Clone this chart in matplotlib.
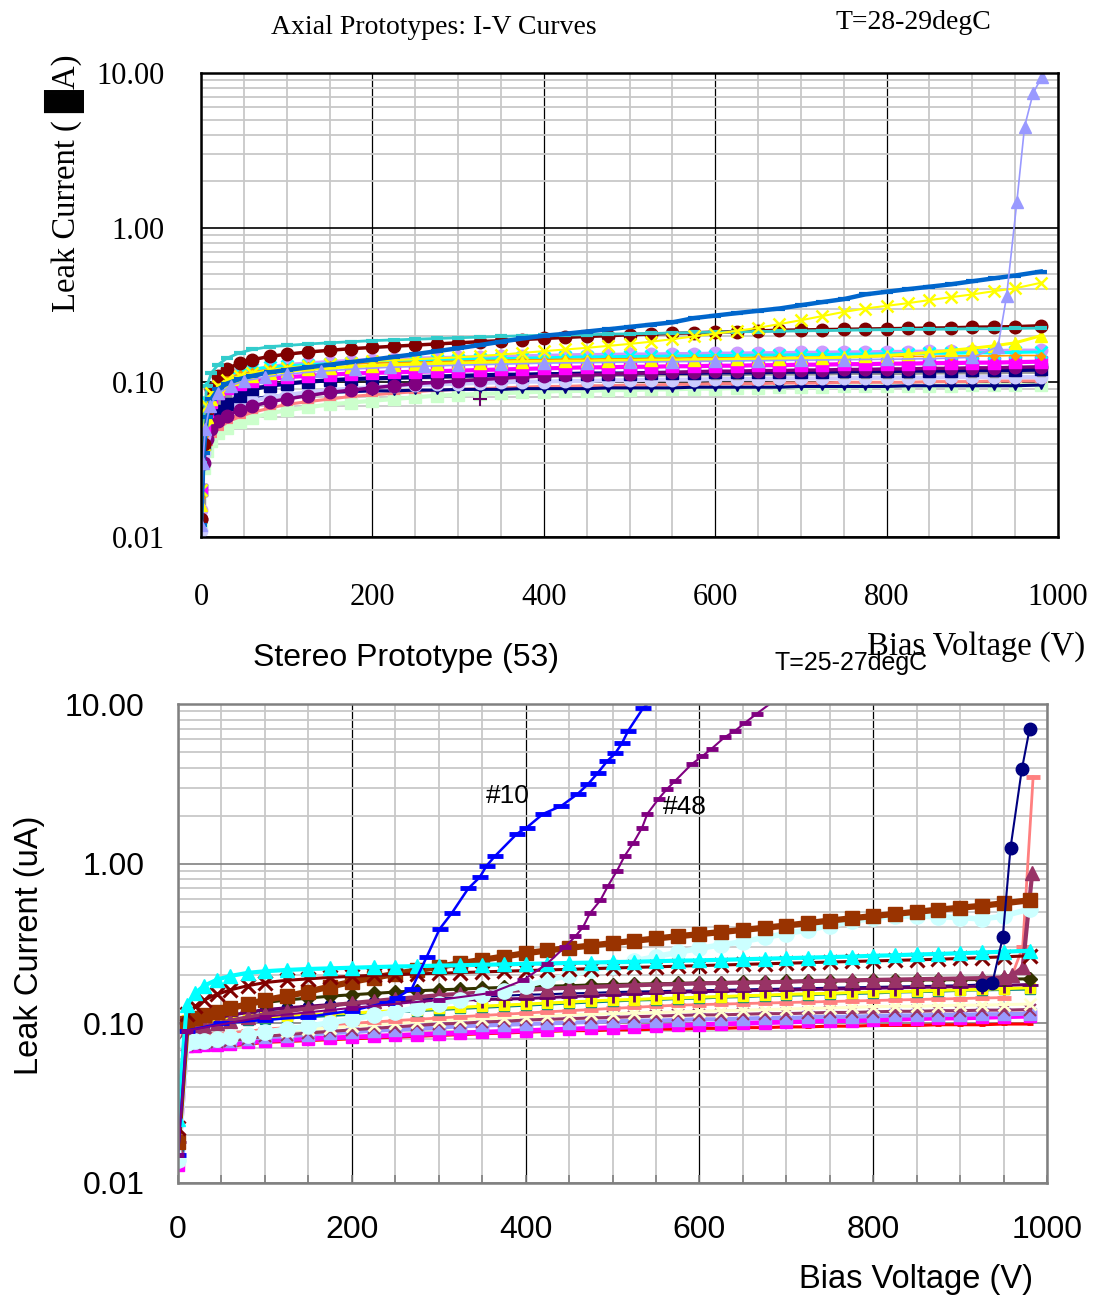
import matplotlib
matplotlib.use("Agg")
import matplotlib.pyplot as plt
from matplotlib.ticker import MultipleLocator, LogLocator, NullFormatter

# ---------------- top panel: axial prototypes (uA vs V) ----------------
# 0..80 V then every 25 V up to 950, then 980
v_top = [0, 3, 7, 12, 20, 30, 45, 60, 80,
         100, 125, 150, 175, 200, 225, 250, 275, 300, 325, 350, 375, 400, 425, 450, 475, 500,
         525, 550, 575, 600, 625, 650, 675, 700, 725, 750, 775, 800, 825, 850, 875, 900, 925, 950,
         980]

top_teal = [0.03, 0.06, 0.095, 0.115, 0.13, 0.143, 0.155, 0.163, 0.17,
            0.173, 0.177, 0.18, 0.183, 0.186, 0.188, 0.19, 0.192, 0.194, 0.196, 0.198, 0.2, 0.201,
            0.202, 0.203, 0.205, 0.206, 0.207, 0.208, 0.21, 0.211, 0.212, 0.213, 0.214, 0.215,
            0.216, 0.217, 0.218, 0.219, 0.22, 0.22, 0.221, 0.222, 0.222, 0.223, 0.224]
top_maroon = [0.013, 0.04, 0.065, 0.09, 0.11, 0.122, 0.133, 0.14, 0.147,
              0.152, 0.157, 0.161, 0.165, 0.168, 0.171, 0.174, 0.177, 0.18, 0.183, 0.186, 0.189,
              0.192, 0.195, 0.198, 0.2, 0.203, 0.205, 0.207, 0.209, 0.211, 0.213, 0.215, 0.217,
              0.218, 0.219, 0.22, 0.221, 0.222, 0.223, 0.224, 0.225, 0.227, 0.228, 0.229, 0.232]
top_blue = [0.012, 0.035, 0.06, 0.078, 0.09, 0.098, 0.105, 0.11, 0.116,
            0.12, 0.125, 0.13, 0.135, 0.14, 0.146, 0.152, 0.159, 0.166, 0.174, 0.183, 0.192, 0.2,
            0.206, 0.213, 0.22, 0.228, 0.236, 0.244, 0.26, 0.27, 0.28, 0.29, 0.3, 0.315, 0.33,
            0.345, 0.37, 0.385, 0.4, 0.415, 0.43, 0.45, 0.47, 0.49, 0.52]
top_yellow_x = [0.02, 0.05, 0.07, 0.085, 0.095, 0.103, 0.11, 0.115, 0.12,
                0.124, 0.128, 0.131, 0.134, 0.137, 0.139, 0.141, 0.143, 0.145, 0.148, 0.151, 0.155,
                0.159, 0.163, 0.167, 0.172, 0.177, 0.183, 0.19, 0.198, 0.206, 0.215, 0.225, 0.238,
                0.252, 0.268, 0.285, 0.3, 0.312, 0.325, 0.34, 0.355, 0.37, 0.388, 0.405, 0.44]
top_cyan_x = [0.02, 0.05, 0.075, 0.092, 0.105, 0.112, 0.118, 0.122, 0.125,
              0.128, 0.13, 0.132, 0.134, 0.136, 0.137, 0.138, 0.139, 0.14, 0.141, 0.142, 0.143,
              0.144, 0.145, 0.146, 0.146, 0.147, 0.147, 0.148, 0.148, 0.149, 0.149, 0.15, 0.15,
              0.151, 0.151, 0.152, 0.152, 0.153, 0.153, 0.154, 0.154, 0.155, 0.155, 0.156, 0.157]
top_lilac = [0.015, 0.045, 0.07, 0.088, 0.1, 0.108, 0.115, 0.12, 0.126,
             0.13, 0.133, 0.136, 0.138, 0.14, 0.142, 0.143, 0.144, 0.145, 0.146, 0.147, 0.148,
             0.149, 0.15, 0.151, 0.151, 0.152, 0.152, 0.153, 0.153, 0.154, 0.154, 0.155, 0.155,
             0.156, 0.156, 0.157, 0.157, 0.158, 0.158, 0.159, 0.159, 0.16, 0.16, 0.161, 0.161]
top_orange = [0.018, 0.045, 0.07, 0.088, 0.1, 0.107, 0.113, 0.117, 0.121,
              0.124, 0.127, 0.129, 0.131, 0.133, 0.134, 0.135, 0.136, 0.137, 0.138, 0.139, 0.14,
              0.14, 0.141, 0.141, 0.142, 0.142, 0.143, 0.143, 0.144, 0.144, 0.144, 0.145, 0.145,
              0.145, 0.146, 0.146, 0.146, 0.147, 0.147, 0.147, 0.148, 0.148, 0.148, 0.149, 0.149]
top_magenta = [0.02, 0.05, 0.065, 0.075, 0.085, 0.092, 0.098, 0.102, 0.105,
               0.108, 0.11, 0.112, 0.114, 0.115, 0.116, 0.117, 0.118, 0.119, 0.12, 0.121, 0.122,
               0.123, 0.124, 0.125, 0.125, 0.126, 0.126, 0.127, 0.127, 0.128, 0.128, 0.129, 0.129,
               0.13, 0.13, 0.131, 0.131, 0.132, 0.132, 0.133, 0.133, 0.134, 0.134, 0.135, 0.136]
top_yellow_tri = [0.016, 0.04, 0.06, 0.078, 0.09, 0.098, 0.105, 0.11, 0.115,
                  0.118, 0.121, 0.124, 0.126, 0.128, 0.13, 0.131, 0.132, 0.133, 0.134, 0.135,
                  0.136, 0.136, 0.137, 0.137, 0.138, 0.138, 0.139, 0.139, 0.14, 0.14, 0.141, 0.141,
                  0.142, 0.143, 0.144, 0.145, 0.147, 0.149, 0.152, 0.156, 0.161, 0.166, 0.172,
                  0.18, 0.2]
top_purple = [0.013, 0.03, 0.043, 0.05, 0.056, 0.061, 0.066, 0.07, 0.075,
              0.078, 0.082, 0.086, 0.089, 0.092, 0.095, 0.098, 0.1, 0.102, 0.104, 0.106, 0.108,
              0.11, 0.111, 0.112, 0.113, 0.114, 0.115, 0.116, 0.117, 0.118, 0.118, 0.119, 0.119,
              0.12, 0.12, 0.121, 0.121, 0.122, 0.122, 0.123, 0.123, 0.124, 0.124, 0.125, 0.126]
top_navy_sq = [0.02, 0.04, 0.05, 0.058, 0.065, 0.072, 0.082, 0.09, 0.095,
               0.098, 0.101, 0.103, 0.105, 0.106, 0.107, 0.108, 0.109, 0.11, 0.111, 0.112, 0.112,
               0.113, 0.113, 0.114, 0.114, 0.114, 0.115, 0.115, 0.115, 0.116, 0.116, 0.116, 0.117,
               0.117, 0.117, 0.118, 0.118, 0.118, 0.119, 0.119, 0.119, 0.12, 0.12, 0.12, 0.121]
top_gray = [0.017, 0.04, 0.055, 0.065, 0.075, 0.082, 0.088, 0.092, 0.096,
            0.099, 0.101, 0.103, 0.104, 0.105, 0.106, 0.107, 0.107, 0.108, 0.108, 0.109, 0.109,
            0.11, 0.11, 0.11, 0.111, 0.111, 0.111, 0.112, 0.112, 0.112, 0.112, 0.113, 0.113,
            0.113, 0.113, 0.114, 0.114, 0.114, 0.114, 0.115, 0.115, 0.115, 0.115, 0.116, 0.116]
top_pale = [0.011, 0.035, 0.048, 0.056, 0.062, 0.067, 0.072, 0.076, 0.08,
            0.083, 0.086, 0.089, 0.091, 0.093, 0.095, 0.096, 0.097, 0.098, 0.099, 0.1, 0.101,
            0.101, 0.102, 0.102, 0.103, 0.103, 0.104, 0.104, 0.104, 0.105, 0.105, 0.105, 0.106,
            0.106, 0.106, 0.106, 0.107, 0.107, 0.107, 0.107, 0.108, 0.108, 0.108, 0.108, 0.108]
top_salmon = [0.014, 0.032, 0.04, 0.045, 0.05, 0.055, 0.06, 0.064, 0.068,
              0.072, 0.075, 0.078, 0.081, 0.083, 0.085, 0.087, 0.089, 0.09, 0.091, 0.092, 0.093,
              0.094, 0.094, 0.095, 0.095, 0.096, 0.096, 0.097, 0.097, 0.098, 0.098, 0.098, 0.099,
              0.099, 0.099, 0.1, 0.1, 0.1, 0.1, 0.101, 0.101, 0.101, 0.102, 0.102, 0.102]
top_green = [0.012, 0.028, 0.036, 0.042, 0.047, 0.051, 0.055, 0.059, 0.063,
             0.066, 0.069, 0.072, 0.074, 0.076, 0.078, 0.08, 0.082, 0.083, 0.084, 0.085, 0.086,
             0.087, 0.088, 0.088, 0.089, 0.089, 0.09, 0.09, 0.091, 0.091, 0.092, 0.092, 0.093,
             0.093, 0.093, 0.094, 0.094, 0.094, 0.095, 0.095, 0.095, 0.096, 0.096, 0.096, 0.096]
top_navy_tri = [0.015, 0.035, 0.048, 0.056, 0.063, 0.069, 0.074, 0.078, 0.081,
                0.083, 0.085, 0.086, 0.087, 0.088, 0.088, 0.089, 0.089, 0.09, 0.09, 0.09, 0.091,
                0.091, 0.091, 0.091, 0.092, 0.092, 0.092, 0.092, 0.093, 0.093, 0.093, 0.093, 0.093,
                0.094, 0.094, 0.094, 0.094, 0.094, 0.095, 0.095, 0.095, 0.095, 0.095, 0.095, 0.096]

# sample that breaks down near 950 V
v_top_bd = [0, 2, 5, 10, 20, 35, 50, 75, 100, 140, 180, 220, 260, 300, 350, 400, 450, 500,
            550, 600, 650, 700, 750, 800, 850, 900, 930, 940, 952, 961, 971, 981]
top_lav_tri = [0.012, 0.03, 0.05, 0.07, 0.085, 0.095, 0.102, 0.108, 0.113, 0.118, 0.122, 0.125, 0.127, 0.129,
               0.131, 0.133, 0.134, 0.135, 0.136, 0.137, 0.138, 0.139, 0.14, 0.141, 0.142, 0.145,
               0.17, 0.36, 1.47, 4.5, 7.4, 9.4]
v_top_plus = [326]
top_plus = [0.078]

# ---------------- bottom panel: stereo prototypes ----------------
v_bot = [0, 10, 20, 30, 45, 60, 80,
         100, 125, 150, 175, 200, 225, 250, 275, 300, 325, 350, 375, 400, 425, 450, 475, 500,
         525, 550, 575, 600, 625, 650, 675, 700, 725, 750, 775, 800, 825, 850, 875, 900, 925, 950,
         980]

bot_cyan_tri = [0.025, 0.13, 0.155, 0.172, 0.188, 0.198, 0.207,
                0.212, 0.216, 0.219, 0.221, 0.223, 0.225, 0.227, 0.228, 0.23, 0.231, 0.233, 0.234,
                0.236, 0.237, 0.239, 0.24, 0.242, 0.243, 0.245, 0.247, 0.248, 0.25, 0.252, 0.254,
                0.256, 0.258, 0.26, 0.262, 0.265, 0.267, 0.27, 0.272, 0.275, 0.278, 0.281, 0.285]
bot_darkred_x = [0.022, 0.115, 0.128, 0.14, 0.152, 0.162, 0.172,
                 0.18, 0.186, 0.19, 0.194, 0.197, 0.2, 0.202, 0.204, 0.206, 0.208, 0.21, 0.212,
                 0.214, 0.216, 0.218, 0.22, 0.222, 0.224, 0.226, 0.228, 0.23, 0.232, 0.234, 0.236,
                 0.238, 0.24, 0.242, 0.244, 0.246, 0.248, 0.25, 0.252, 0.255, 0.258, 0.261, 0.265]
bot_brown = [0.018, 0.1, 0.108, 0.113, 0.118, 0.124, 0.132,
             0.14, 0.148, 0.158, 0.17, 0.182, 0.193, 0.204, 0.215, 0.226, 0.238, 0.25, 0.262,
             0.275, 0.286, 0.297, 0.307, 0.318, 0.329, 0.34, 0.351, 0.362, 0.373, 0.385, 0.397,
             0.41, 0.425, 0.44, 0.455, 0.47, 0.485, 0.5, 0.515, 0.53, 0.545, 0.565, 0.59]
bot_lightcyan = [0.014, 0.075, 0.077, 0.078, 0.08, 0.082, 0.085,
                 0.088, 0.092, 0.096, 0.101, 0.106, 0.112, 0.118, 0.125, 0.133, 0.141, 0.15, 0.16,
                 0.172, 0.186, 0.2, 0.215, 0.23, 0.246, 0.262, 0.278, 0.295, 0.31, 0.325, 0.345,
                 0.365, 0.385, 0.41, 0.435, 0.455, 0.47, 0.47, 0.465, 0.46, 0.45, 0.47, 0.52]
bot_olive = [0.02, 0.1, 0.106, 0.112, 0.118, 0.124, 0.13,
             0.135, 0.14, 0.144, 0.148, 0.151, 0.154, 0.157, 0.16, 0.162, 0.164, 0.166, 0.168,
             0.17, 0.171, 0.172, 0.174, 0.175, 0.176, 0.177, 0.178, 0.179, 0.18, 0.181, 0.182,
             0.183, 0.184, 0.185, 0.185, 0.186, 0.186, 0.187, 0.187, 0.188, 0.188, 0.189, 0.19]
bot_plus = [0.018, 0.1, 0.102, 0.105, 0.108, 0.112, 0.117,
            0.122, 0.125, 0.128, 0.131, 0.133, 0.135, 0.137, 0.138, 0.139, 0.14, 0.141, 0.142,
            0.143, 0.145, 0.147, 0.149, 0.151, 0.153, 0.155, 0.157, 0.158, 0.159, 0.16, 0.161,
            0.162, 0.163, 0.164, 0.165, 0.166, 0.167, 0.168, 0.169, 0.17, 0.171, 0.173, 0.175]
bot_teal = [0.017, 0.1, 0.1, 0.101, 0.102, 0.103, 0.105,
            0.106, 0.108, 0.11, 0.112, 0.114, 0.116, 0.118, 0.12, 0.122, 0.124, 0.126, 0.128,
            0.13, 0.132, 0.134, 0.136, 0.138, 0.14, 0.141, 0.143, 0.144, 0.146, 0.147, 0.149,
            0.15, 0.151, 0.153, 0.154, 0.155, 0.157, 0.158, 0.159, 0.161, 0.162, 0.163, 0.164]
bot_yellow = [0.019, 0.105, 0.105, 0.106, 0.106, 0.107, 0.108,
              0.11, 0.111, 0.113, 0.115, 0.116, 0.118, 0.12, 0.122, 0.124, 0.126, 0.128, 0.13,
              0.132, 0.134, 0.136, 0.138, 0.14, 0.141, 0.143, 0.144, 0.146, 0.147, 0.149, 0.15,
              0.152, 0.153, 0.154, 0.156, 0.157, 0.158, 0.159, 0.161, 0.162, 0.163, 0.165, 0.167]
bot_cream = [0.014, 0.078, 0.079, 0.08, 0.081, 0.083, 0.085,
             0.088, 0.09, 0.092, 0.094, 0.096, 0.098, 0.1, 0.102, 0.104, 0.105, 0.107, 0.108,
             0.11, 0.111, 0.113, 0.114, 0.115, 0.116, 0.117, 0.118, 0.119, 0.12, 0.121, 0.122,
             0.123, 0.124, 0.125, 0.126, 0.127, 0.128, 0.128, 0.129, 0.13, 0.13, 0.131, 0.132]
bot_lav = [0.015, 0.075, 0.076, 0.076, 0.077, 0.078, 0.08,
           0.082, 0.083, 0.085, 0.087, 0.088, 0.09, 0.091, 0.093, 0.094, 0.096, 0.097, 0.098,
           0.099, 0.1, 0.101, 0.102, 0.103, 0.104, 0.104, 0.105, 0.106, 0.106, 0.107, 0.108,
           0.108, 0.109, 0.11, 0.11, 0.111, 0.112, 0.112, 0.113, 0.113, 0.114, 0.114, 0.115]
bot_mauve_x = [0.015, 0.073, 0.074, 0.075, 0.076, 0.078, 0.08,
               0.083, 0.085, 0.087, 0.089, 0.091, 0.093, 0.095, 0.097, 0.099, 0.1, 0.102, 0.103,
               0.105, 0.106, 0.107, 0.108, 0.109, 0.11, 0.111, 0.112, 0.113, 0.113, 0.114, 0.115,
               0.115, 0.116, 0.117, 0.117, 0.118, 0.119, 0.119, 0.12, 0.12, 0.121, 0.121, 0.122]
bot_magenta = [0.013, 0.072, 0.072, 0.073, 0.073, 0.074, 0.076,
               0.078, 0.079, 0.08, 0.081, 0.082, 0.083, 0.084, 0.085, 0.086, 0.087, 0.088, 0.089,
               0.09, 0.091, 0.092, 0.093, 0.094, 0.095, 0.096, 0.097, 0.098, 0.099, 0.1, 0.101,
               0.102, 0.103, 0.104, 0.104, 0.105, 0.106, 0.107, 0.108, 0.108, 0.109, 0.11, 0.111]
bot_red = [0.013, 0.07, 0.07, 0.071, 0.071, 0.072, 0.074,
           0.076, 0.077, 0.078, 0.079, 0.08, 0.081, 0.082, 0.083, 0.084, 0.085, 0.086, 0.087,
           0.088, 0.089, 0.09, 0.09, 0.091, 0.091, 0.092, 0.092, 0.093, 0.093, 0.094, 0.094,
           0.095, 0.095, 0.096, 0.096, 0.097, 0.097, 0.097, 0.098, 0.098, 0.098, 0.099, 0.099]

# samples with a late breakdown (regular part shares v_bot)
v_bot_mauve = v_bot[:42] + [960, 972, 983]
bot_mauve_tri = [0.016, 0.09, 0.093, 0.096, 0.1, 0.104, 0.109,
                 0.114, 0.119, 0.124, 0.129, 0.134, 0.138, 0.142, 0.146, 0.15, 0.153, 0.156, 0.159,
                 0.162, 0.165, 0.167, 0.169, 0.171, 0.173, 0.175, 0.176, 0.178, 0.179, 0.18, 0.181,
                 0.182, 0.184, 0.185, 0.186, 0.187, 0.188, 0.189, 0.19, 0.191, 0.192, 0.194,
                 0.2, 0.224, 0.88]
v_bot_salmon = v_bot[:42] + [972, 984]
bot_salmon = [0.014, 0.085, 0.085, 0.085, 0.086, 0.087, 0.089,
              0.092, 0.094, 0.096, 0.098, 0.1, 0.102, 0.104, 0.106, 0.108, 0.11, 0.112, 0.114,
              0.116, 0.118, 0.12, 0.122, 0.124, 0.126, 0.128, 0.13, 0.131, 0.132, 0.133, 0.134,
              0.135, 0.136, 0.137, 0.138, 0.139, 0.14, 0.141, 0.142, 0.143, 0.144, 0.145,
              0.3, 3.5]
# navy sample: flat part (hidden under the others) and its late breakdown
v_bot_navy = v_bot[:41]
bot_navy = [0.016, 0.1, 0.103, 0.106, 0.109, 0.113, 0.117,
            0.12, 0.124, 0.127, 0.13, 0.133, 0.136, 0.139, 0.141, 0.143, 0.145, 0.147, 0.149,
            0.151, 0.152, 0.154, 0.155, 0.157, 0.158, 0.159, 0.16, 0.161, 0.162, 0.163, 0.164,
            0.165, 0.166, 0.167, 0.168, 0.169, 0.17, 0.171, 0.172, 0.173, 0.175]
v_bot_navy_bd = [925, 937, 949, 958, 971, 980]
bot_navy_bd = [0.175, 0.178, 0.345, 1.26, 3.9, 7.0]

# early breakdown samples #10 and #48
v_b10 = [0, 10, 50, 100, 150, 200, 240, 252, 269, 286, 301, 315, 334, 347, 355, 365, 390, 401,
         420, 441, 460, 472, 483, 494, 503, 511, 518, 535, 548]
bot_10 = [0.015, 0.09, 0.1, 0.105, 0.11, 0.12, 0.135, 0.145, 0.165, 0.26, 0.39, 0.49, 0.70, 0.82,
          0.97, 1.12, 1.54, 1.68, 2.05, 2.3, 2.74, 3.16, 3.7, 4.4, 4.9, 5.7, 6.8, 9.4, 11.0]
v_b48 = [0, 10, 100, 200, 300, 360, 397, 425, 445, 457, 466, 474, 486, 495, 505, 514, 524, 534,
         540, 553, 563, 572, 591, 603, 614, 629, 641, 652, 666, 686]
bot_48 = [0.015, 0.09, 0.11, 0.125, 0.14, 0.155, 0.186, 0.237, 0.30, 0.35, 0.40, 0.49, 0.59, 0.73,
          0.90, 1.12, 1.35, 1.68, 2.05, 2.55, 2.95, 3.3, 4.2, 4.7, 5.25, 6.2, 6.8, 7.6, 8.7, 10.5]

x_ticks = [0, 200, 400, 600, 800, 1000]
y_ticks = [0.01, 0.1, 1, 10]

SERIF = ["Liberation Serif", "DejaVu Sans"]
SANS = ["Liberation Sans", "DejaVu Sans"]

fig = plt.figure(figsize=(10.95, 12.98), dpi=100)


def setup(ax, family, fsize, hline_color, frame_color, pad_x, pad_y, inward_ticks):
    ax.set_xlim(0, 1000)
    ax.set_yscale("log")
    ax.set_ylim(0.01, 10)
    ax.set_xticks(x_ticks, [str(t) for t in x_ticks], family=family, fontsize=fsize)
    ax.set_yticks(y_ticks, ["%.2f" % t for t in y_ticks], family=family, fontsize=fsize)
    ax.xaxis.set_minor_locator(MultipleLocator(50))
    ax.yaxis.set_minor_locator(LogLocator(base=10, subs=range(2, 10)))
    ax.yaxis.set_minor_formatter(NullFormatter())
    ax.set_axisbelow(True)
    ax.grid(which="minor", color="#c8c8c8", lw=1.3)
    ax.grid(which="major", axis="x", color="black", lw=0.9)
    ax.grid(which="major", axis="y", color=hline_color, lw=1.2)
    for s in ax.spines.values():
        s.set_color(frame_color)
        s.set_linewidth(1.8)
    ax.tick_params(axis="y", which="both", length=0, pad=pad_y)
    if inward_ticks:
        ax.tick_params(axis="x", which="both", direction="in", length=6, width=1.2,
                       color="#808080", pad=pad_x)
    else:
        ax.tick_params(axis="x", which="both", length=0, pad=pad_x)


def draw(ax, v, cur, color, marker, ms=6, lw=2.2, mew=1.0):
    ax.plot(v, cur, color=color, marker=marker, ms=ms, lw=lw, mew=mew, mec=color)


# ---------------- top ----------------
ax1 = fig.add_axes([0.1836, 0.5863, 0.7826, 0.3575])
setup(ax1, SERIF, 22, "black", "black", 33, 26, False)

draw(ax1, v_top, top_green, "#ccffcc", "s", 8, lw=3)
draw(ax1, v_top, top_salmon, "#ff8080", "_", 8, mew=3)
draw(ax1, v_top, top_navy_tri, "#000080", "v", 6)
draw(ax1, v_top, top_pale, "#ccccff", "o", 9, lw=3)
draw(ax1, v_top, top_gray, "#969696", "s", 6)
draw(ax1, v_top, top_navy_sq, "#000080", "s", 8, lw=3)
draw(ax1, v_top, top_purple, "#800080", "o", 9, lw=2.5)
draw(ax1, v_top, top_magenta, "#ff00ff", "s", 8, lw=3)
draw(ax1, v_top, top_lilac, "#cc99ff", "o", 9, lw=2.5)
draw(ax1, v_top, top_cyan_x, "#00ffff", "x", 9, mew=2)
draw(ax1, v_top, top_orange, "#ff9900", "D", 4, lw=1.2)
draw(ax1, v_top, top_yellow_tri, "#ffff00", "^", 9)
draw(ax1, v_top, top_maroon, "#800000", "o", 9, lw=2.5)
draw(ax1, v_top, top_teal, "#33cccc", "_", 8, lw=2, mew=3)
draw(ax1, v_top, top_yellow_x, "#ffff00", "x", 9, lw=1.5, mew=1.8)
draw(ax1, v_top, top_blue, "#0066cc", "_", 8, lw=3.2, mew=3)
draw(ax1, v_top_bd, top_lav_tri, "#9999ff", "^", 8, lw=1.2)
draw(ax1, v_top_plus, top_plus, "#660066", "+", 10, mew=1.5)

fig.text(0.396, 0.979, "Axial Prototypes: I-V Curves", ha="center", va="center",
         family=SERIF, fontsize=20)
fig.text(0.834, 0.983, "T=28-29degC", ha="center", va="center", family=SERIF, fontsize=20)
fig.text(0.059, 0.859, "Leak Current ( \u2588A)", ha="center", va="center", rotation=90,
         family=SERIF, fontsize=23.5)

# ---------------- bottom ----------------
ax2 = fig.add_axes([0.1626, 0.0886, 0.7936, 0.369])
setup(ax2, SANS, 23, "#808080", "#808080", 23, 24, True)

draw(ax2, v_bot_navy, bot_navy, "#000080", "o", 8, lw=1.5)
draw(ax2, v_bot, bot_red, "#ff0000", "_", 5, mew=2)
draw(ax2, v_bot, bot_magenta, "#ff00ff", "s", 9, lw=3.5)
draw(ax2, v_bot, bot_lav, "#9999ff", "s", 8, lw=3)
draw(ax2, v_bot, bot_mauve_x, "#993366", "x", 8, mew=1.5)
draw(ax2, v_bot, bot_cream, "#ffffcc", "x", 9, mew=2)
draw(ax2, v_bot_salmon, bot_salmon, "#ff8080", "_", 10, lw=2, mew=3.5)
draw(ax2, v_bot, bot_teal, "#008080", "s", 7)
draw(ax2, v_bot, bot_yellow, "#ffff00", "s", 7)
draw(ax2, v_bot, bot_plus, "#660066", "+", 12, mew=2)
draw(ax2, v_bot, bot_olive, "#333300", "D", 7)
draw(ax2, v_bot_mauve, bot_mauve_tri, "#993366", "^", 10, lw=3)
draw(ax2, v_bot, bot_lightcyan, "#ccffff", "o", 11, lw=4)
draw(ax2, v_bot, bot_brown, "#993300", "s", 10, lw=4.5)
draw(ax2, v_bot, bot_darkred_x, "#800000", "x", 10, mew=2.2)
draw(ax2, v_bot, bot_cyan_tri, "#00ffff", "^", 10, lw=3)
draw(ax2, v_bot_navy_bd, bot_navy_bd, "#000080", "o", 9, lw=1.5)
draw(ax2, v_b10, bot_10, "#0000ff", "_", 12, lw=1.8, mew=3.5)
draw(ax2, v_b48, bot_48, "#800080", "_", 9, lw=1.5, mew=3.5)

ax2.text(380, 2.66, "#10", ha="center", va="center", family=SANS, fontsize=19)
ax2.text(583, 2.27, "#48", ha="center", va="center", family=SANS, fontsize=19)

fig.text(0.371, 0.493, "Stereo Prototype (53)", ha="center", va="center", family=SANS, fontsize=23)
fig.text(0.777, 0.489, "T=25-27degC", ha="center", va="center", family=SANS, fontsize=18)
fig.text(0.891, 0.5015, "Bias Voltage (V)", ha="center", va="center", family=SERIF, fontsize=23.5)
fig.text(0.027, 0.272, "Leak Current (uA)", ha="center", va="center", rotation=90,
         family=SANS, fontsize=23.5)
fig.text(0.8365, 0.0139, "Bias Voltage (V)", ha="center", va="center", family=SANS, fontsize=23.5)

fig.savefig("out.png", dpi=100)
